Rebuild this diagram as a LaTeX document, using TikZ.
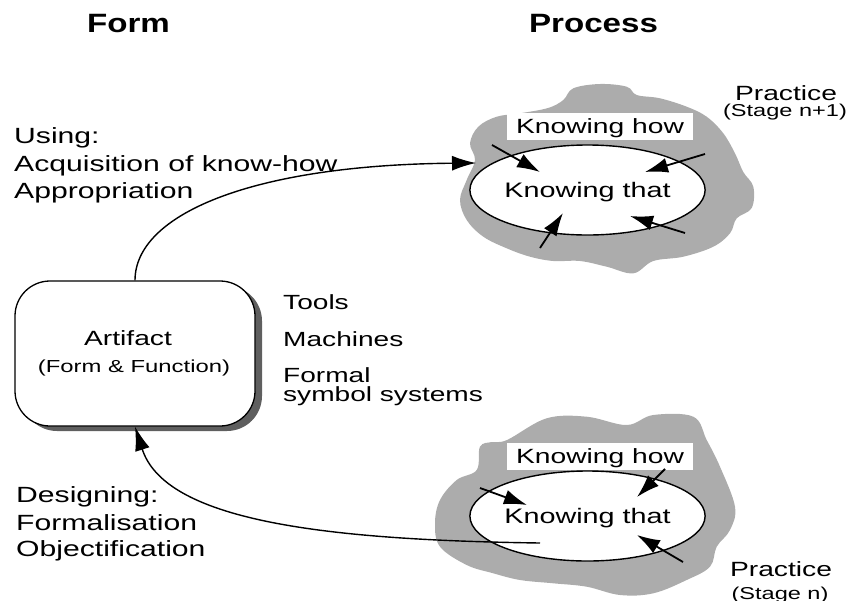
\documentclass[tikz,border=0pt]{standalone}
\usepackage{fontspec}
\setmainfont{Liberation Sans}[FakeStretch=1.37]
\newfontfamily\headfont{Liberation Sans}[FakeStretch=1.25]
\usetikzlibrary{arrows.meta,shadows,shapes.geometric}
\definecolor{cloudgray}{RGB}{172,172,172}
\definecolor{shadegray}{RGB}{95,95,95}
\begin{document}
\begin{tikzpicture}[x=1pt,y=-1pt,
  txt/.style={inner sep=0pt, anchor=base west},
  lbl/.style={txt, font=\fontsize{22}{26}\selectfont},
  side/.style={txt, font=\fontsize{20.5}{24}\selectfont},
  ttl/.style={inner sep=0pt, anchor=base, font=\headfont\bfseries\fontsize{26.5}{30}\selectfont},
  prac/.style={inner sep=0pt, anchor=base, font=\fontsize{20.6}{24}\selectfont},
  stage/.style={inner sep=0pt, anchor=base, font=\fontsize{17.2}{20}\selectfont},
  artbox/.style={draw, line width=1.3pt, fill=white, rounded corners=35pt,
    minimum width=240pt, minimum height=145pt, inner sep=0pt,
    drop shadow={shadow xshift=7pt, shadow yshift=-5pt, fill=shadegray, opacity=1}},
  that/.style={draw, line width=1.4pt, fill=white, ellipse, minimum width=191pt,
    minimum height=90pt, inner sep=0pt, text depth=0pt, font=\fontsize{21}{24}\selectfont},
  how/.style={fill=white, minimum width=186pt, minimum height=27pt, inner sep=0pt,
    text depth=0pt, font=\fontsize{20.6}{24}\selectfont},
  conn/.style={line width=1.4pt, -{Latex[length=24pt,width=15pt]}},
  inarrow/.style={line width=1.8pt, -{Latex[length=23pt,width=15pt]}},
  cloud/.style={fill=cloudgray}
]
\useasboundingbox (0,0) rectangle (849,600);

% column headings
\node[ttl] (formhead) at (128.5,32) {Form};
\node[ttl] (prochead) at (593.5,32) {Process};

% practice clouds
\fill[cloud] plot[smooth cycle, tension=0.6] coordinates {
  (496.7,116.7) (520,113.3) (548,108) (563.3,100) (573.3,88.3) (600,84) (626.7,86.7)
  (636.7,95) (660,98.3) (686.7,106.7) (706.7,116.7) (723.3,133.3) (735,153.3)
  (743.3,172) (753.3,186.7) (751.7,208) (736.7,218.3) (730,233.3) (713.3,246.7)
  (683.3,256.7) (653.3,261) (633.3,273.3) (606.7,266.7) (580,261) (553.3,261)
  (530,256.7) (506.7,248.3) (483.3,236.7) (466.7,220) (460,200) (466.7,180)
  (475,160) (470,143.3) (478.3,126.7)};
\fill[cloud] plot[smooth cycle, tension=0.6] coordinates {
  (480,446.7) (492,442) (507,440) (546.7,418.3) (586.7,416.7) (626.7,425)
  (653.3,415) (693.3,416.7) (706.7,440) (720,466.7) (735,506.7) (730,530)
  (716.7,546.7) (710,566.7) (686.7,580) (653.3,593.3) (620,595) (586.7,586.7)
  (553.3,583.3) (520,580) (493.3,573.3) (466.7,565) (440,546.7) (435,523.3)
  (440,500) (456.7,480) (476.7,470)};

% upper practice
\node[how] (howup) at (600,126.5) {Knowing how};
\node[that] (thatup) at (587.5,190) {Knowing that};
\node[prac] (pracup) at (786,100) {Practice};
\node[stage] (stageup) at (785,116) {(Stage n+1)};

% lower practice
\node[how] (howlo) at (600,456) {Knowing how};
\node[that] (thatlo) at (587.5,516) {Knowing that};
\node[prac] (praclo) at (781,576) {Practice};
\node[stage] (stagelo) at (780,599) {(Stage n)};

% arrows pressing on the upper core
\coordinate (u1a) at (492,145); \coordinate (u1b) at (540,172);
\coordinate (u2a) at (705,154); \coordinate (u2b) at (645,172);
\coordinate (u3a) at (540,248); \coordinate (u3b) at (563,213);
\coordinate (u4a) at (685,233); \coordinate (u4b) at (630,216);
\draw[inarrow] (u1a) -- (u1b);
\draw[inarrow] (u2a) -- (u2b);
\draw[inarrow] (u3a) -- (u3b);
\draw[inarrow] (u4a) -- (u4b);

% arrows pressing on the lower core
\coordinate (l1a) at (480,488); \coordinate (l1b) at (527,505);
\coordinate (l2a) at (665,469); \coordinate (l2b) at (637,497);
\coordinate (l3a) at (683,562); \coordinate (l3b) at (637,535);
\draw[inarrow] (l1a) -- (l1b);
\draw[inarrow] (l2a) -- (l2b);
\draw[inarrow] (l3a) -- (l3b);

% the artifact
\node[artbox] (artifact) at (135,353.5) {};
\node[inner sep=0pt, anchor=base, font=\fontsize{20.6}{24}\selectfont] (artname) at (128,345) {Artifact};
\node[inner sep=0pt, anchor=base, font=\fontsize{17.4}{20}\selectfont] (artsub) at (134,372) {(Form \& Function)};

% kinds of artifact
\node[side] (tools) at (283,309) {Tools};
\node[side] (machines) at (283,346) {Machines};
\node[side] (formal) at (283,382) {Formal};
\node[side] (symsys) at (283,401) {symbol systems};

% using / designing labels
\node[lbl] (using1) at (14,143) {Using:};
\node[lbl] (using2) at (14,171) {Acquisition of know-how};
\node[lbl] (using3) at (14,198) {Appropriation};
\node[lbl] (design1) at (16,502) {Designing:};
\node[lbl] (design2) at (16,530) {Formalisation};
\node[lbl] (design3) at (16,556) {Objectification};

% connectors between artifact and practice
\coordinate (usein) at (476,163);
\coordinate (designout) at (540,543);
\draw[conn] (artifact.north) .. controls (135,215) and (250,165) .. (usein);
\draw[conn] (designout) .. controls (320,540) and (165,520) .. (artifact.south);
\end{tikzpicture}
\end{document}
